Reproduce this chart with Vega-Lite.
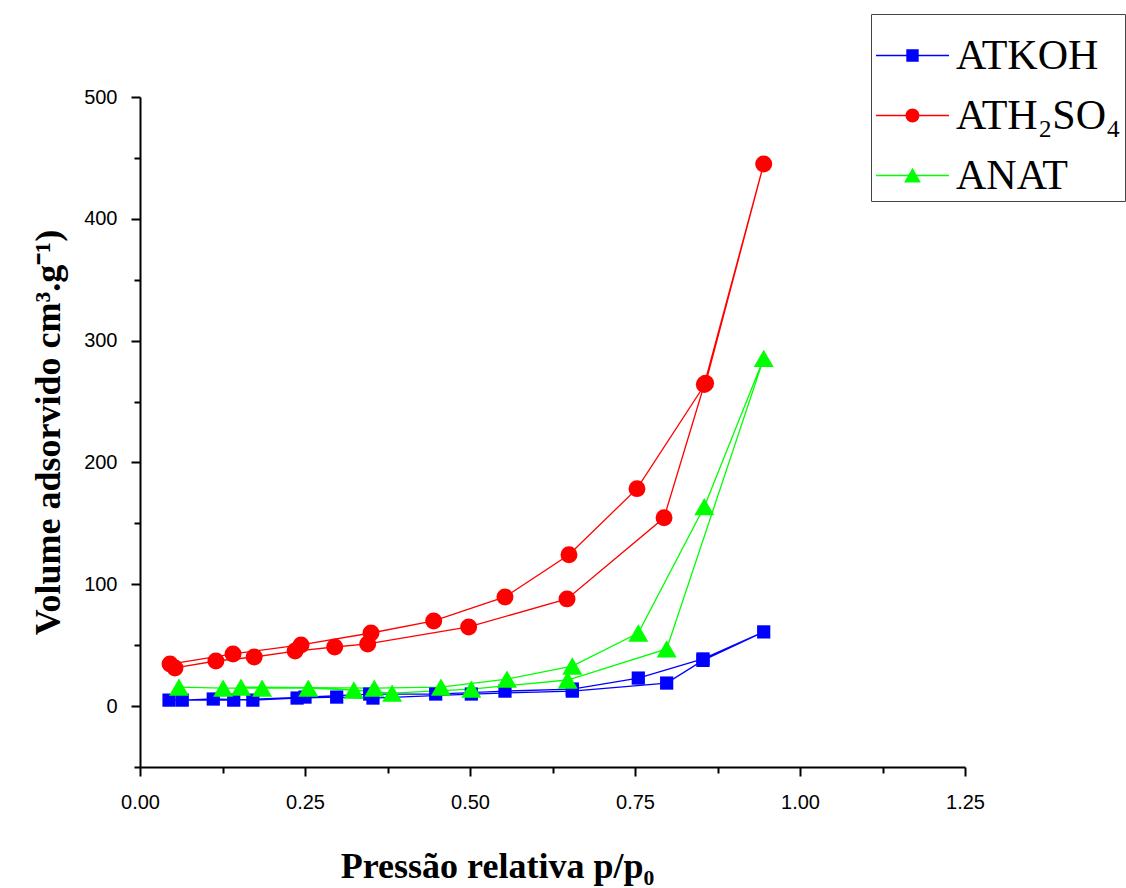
{
  "$schema": "https://vega.github.io/schema/vega-lite/v6.json",
  "width": 825,
  "height": 670,
  "autosize": {"type": "none"},
  "padding": {"left": 140, "top": 97, "right": 161, "bottom": 121},
  "background": "white",
  "config": {"view": {"stroke": null}},
  "data": {"values": [
    {"s": "ATKOH", "i": 1, "x": 0.064, "y": 4.9},
    {"s": "ATKOH", "i": 2, "x": 0.111, "y": 5.8},
    {"s": "ATKOH", "i": 3, "x": 0.171, "y": 4.9},
    {"s": "ATKOH", "i": 4, "x": 0.238, "y": 6.6},
    {"s": "ATKOH", "i": 5, "x": 0.298, "y": 7.4},
    {"s": "ATKOH", "i": 6, "x": 0.353, "y": 6.6},
    {"s": "ATKOH", "i": 7, "x": 0.502, "y": 9.9},
    {"s": "ATKOH", "i": 8, "x": 0.655, "y": 12.3},
    {"s": "ATKOH", "i": 9, "x": 0.798, "y": 18.9},
    {"s": "ATKOH", "i": 10, "x": 0.853, "y": 37.5},
    {"s": "ATKOH", "i": 11, "x": 0.945, "y": 60.9},
    {"s": "ATKOH", "i": 12, "x": 0.853, "y": 38.7},
    {"s": "ATKOH", "i": 13, "x": 0.755, "y": 23.0},
    {"s": "ATKOH", "i": 14, "x": 0.655, "y": 14.0},
    {"s": "ATKOH", "i": 15, "x": 0.553, "y": 12.3},
    {"s": "ATKOH", "i": 16, "x": 0.448, "y": 9.9},
    {"s": "ATKOH", "i": 17, "x": 0.348, "y": 9.9},
    {"s": "ATKOH", "i": 18, "x": 0.25, "y": 7.4},
    {"s": "ATKOH", "i": 19, "x": 0.142, "y": 4.9},
    {"s": "ATKOH", "i": 20, "x": 0.044, "y": 4.9},
    {"s": "ATH₂SO₄", "i": 1, "x": 0.053, "y": 31.3},
    {"s": "ATH₂SO₄", "i": 2, "x": 0.115, "y": 37.0},
    {"s": "ATH₂SO₄", "i": 3, "x": 0.173, "y": 40.3},
    {"s": "ATH₂SO₄", "i": 4, "x": 0.235, "y": 45.2},
    {"s": "ATH₂SO₄", "i": 5, "x": 0.295, "y": 48.5},
    {"s": "ATH₂SO₄", "i": 6, "x": 0.345, "y": 51.0},
    {"s": "ATH₂SO₄", "i": 7, "x": 0.498, "y": 65.0},
    {"s": "ATH₂SO₄", "i": 8, "x": 0.647, "y": 88.0},
    {"s": "ATH₂SO₄", "i": 9, "x": 0.794, "y": 154.6},
    {"s": "ATH₂SO₄", "i": 10, "x": 0.855, "y": 264},
    {"s": "ATH₂SO₄", "i": 11, "x": 0.945, "y": 445},
    {"s": "ATH₂SO₄", "i": 12, "x": 0.857, "y": 265},
    {"s": "ATH₂SO₄", "i": 13, "x": 0.753, "y": 178.5},
    {"s": "ATH₂SO₄", "i": 14, "x": 0.65, "y": 124.2},
    {"s": "ATH₂SO₄", "i": 15, "x": 0.553, "y": 89.6},
    {"s": "ATH₂SO₄", "i": 16, "x": 0.445, "y": 69.9},
    {"s": "ATH₂SO₄", "i": 17, "x": 0.35, "y": 60.0},
    {"s": "ATH₂SO₄", "i": 18, "x": 0.244, "y": 50.2},
    {"s": "ATH₂SO₄", "i": 19, "x": 0.141, "y": 42.8},
    {"s": "ATH₂SO₄", "i": 20, "x": 0.0455, "y": 34.5},
    {"s": "ANAT", "i": 1, "x": 0.059, "y": 15.6},
    {"s": "ANAT", "i": 2, "x": 0.126, "y": 14.8},
    {"s": "ANAT", "i": 3, "x": 0.185, "y": 14.8},
    {"s": "ANAT", "i": 4, "x": 0.255, "y": 14.8},
    {"s": "ANAT", "i": 5, "x": 0.324, "y": 13.2},
    {"s": "ANAT", "i": 6, "x": 0.382, "y": 10.7},
    {"s": "ANAT", "i": 7, "x": 0.502, "y": 14.0},
    {"s": "ANAT", "i": 8, "x": 0.648, "y": 21.4},
    {"s": "ANAT", "i": 9, "x": 0.798, "y": 46.9},
    {"s": "ANAT", "i": 10, "x": 0.945, "y": 285.4},
    {"s": "ANAT", "i": 11, "x": 0.855, "y": 163.7},
    {"s": "ANAT", "i": 12, "x": 0.755, "y": 60.0},
    {"s": "ANAT", "i": 13, "x": 0.655, "y": 32.9},
    {"s": "ANAT", "i": 14, "x": 0.556, "y": 22.2},
    {"s": "ANAT", "i": 15, "x": 0.456, "y": 15.6},
    {"s": "ANAT", "i": 16, "x": 0.355, "y": 14.8},
    {"s": "ANAT", "i": 17, "x": 0.153, "y": 15.6}
  ]},
  "encoding": {
    "x": {
      "field": "x", "type": "quantitative",
      "scale": {"domain": [0, 1.25], "nice": false, "zero": false},
      "axis": {
        "values": [0, 0.125, 0.25, 0.375, 0.5, 0.625, 0.75, 0.875, 1, 1.125, 1.25],
        "format": ".2f",
        "labelExpr": "abs(datum.value*4 - round(datum.value*4)) < 0.001 ? datum.label : ''",
        "grid": false,
        "domainColor": "black", "domainWidth": 2,
        "tickColor": "black", "tickWidth": 2,
        "tickSize": {"condition": {"test": "abs(datum.value*4 - round(datum.value*4)) < 0.001", "value": 9}, "value": 6},
        "labelFont": "Liberation Sans", "labelFontSize": 20, "labelColor": "black",
        "labelPadding": 16, "labelFlush": false, "labelOverlap": false,
        "title": "Pressão relativa p/p₀",
        "titleFont": "Liberation Serif", "titleFontSize": 36, "titleFontWeight": "bold", "titleColor": "black",
        "titleX": 357, "titleY": 110, "titleBaseline": "alphabetic", "titleAlign": "center"
      }
    },
    "y": {
      "field": "y", "type": "quantitative",
      "scale": {"domain": [-50, 500], "nice": false, "zero": false},
      "axis": {
        "values": [-50, 0, 50, 100, 150, 200, 250, 300, 350, 400, 450, 500],
        "labelExpr": "datum.value % 100 === 0 ? datum.label : ''",
        "grid": false,
        "domainColor": "black", "domainWidth": 2,
        "tickColor": "black", "tickWidth": 2,
        "tickSize": {"condition": {"test": "datum.value % 100 === 0", "value": 9}, "value": 6},
        "labelFont": "Liberation Sans", "labelFontSize": 20, "labelColor": "black",
        "labelPadding": 14, "labelOverlap": false,
        "title": "Volume adsorvido cm³.g⁻¹)",
        "titleFont": "Liberation Serif", "titleFontSize": 36, "titleFontWeight": "bold", "titleColor": "black",
        "titleAngle": -90, "titleX": -92, "titleY": 335, "titleBaseline": "middle", "titleAlign": "center"
      }
    }
  },
  "resolve": {"scale": {"shape": "independent", "color": "independent", "size": "independent"}},
  "layer": [
    {
      "mark": {"type": "line", "strokeWidth": 1.3},
      "encoding": {
        "order": {"field": "i", "type": "quantitative"},
        "color": {
          "field": "s", "type": "nominal", "legend": null,
          "scale": {"domain": ["ANAT", "ATKOH", "ATH₂SO₄"], "range": ["#00ff00", "#0000ff", "#ff0000"]}
        }
      }
    },
    {
      "mark": {"type": "point", "filled": true, "opacity": 1},
      "encoding": {
        "color": {
          "field": "s", "type": "nominal", "legend": null,
          "scale": {"domain": ["ANAT", "ATKOH", "ATH₂SO₄"], "range": ["#00ff00", "#0000ff", "#ff0000"]}
        },
        "size": {
          "field": "s", "type": "nominal", "legend": null,
          "scale": {"domain": ["ANAT", "ATH₂SO₄", "ATKOH"], "range": [400, 175, 185]}
        },
        "shape": {
          "field": "s", "type": "nominal", "legend": null,
          "scale": {"domain": ["ATH₂SO₄", "ATKOH", "ANAT"], "range": ["circle", "square", "triangle-up"]}
        }
      }
    },
    {
      "mark": {"type": "point", "filled": true, "opacity": 1, "size": 0},
      "encoding": {
        "color": {
          "field": "s", "type": "nominal",
          "scale": {"domain": ["ATKOH", "ATH₂SO₄", "ANAT"], "range": ["#0000ff", "#ff0000", "#00ff00"]},
          "legend": {
            "title": null,
            "orient": "none",
            "legendX": 731,
            "legendY": -83,
            "strokeColor": "#444444",
            "padding": 4,
            "symbolSize": 5329,
            "symbolOpacity": 1,
            "labelFont": "Liberation Serif",
            "labelFontSize": 42,
            "labelColor": "black",
            "labelOffset": 6,
            "labelLimit": 400,
            "rowPadding": 1
          }
        },
        "shape": {
          "field": "s", "type": "nominal",
          "scale": {"domain": ["ATKOH", "ATH₂SO₄", "ANAT"], "range": [
            "M-1,-0.02H1V0.02H-1ZM-0.17,-0.17H0.17V0.17H-0.17Z",
            "M-1,-0.02H1V0.02H-1ZM-0.19,0A0.19,0.19 0 1,1 0.19,0A0.19,0.19 0 1,1 -0.19,0Z",
            "M-1,-0.02H1V0.02H-1ZM0,-0.21L0.23,0.19H-0.23Z"
          ]}
        }
      }
    }
  ]
}
